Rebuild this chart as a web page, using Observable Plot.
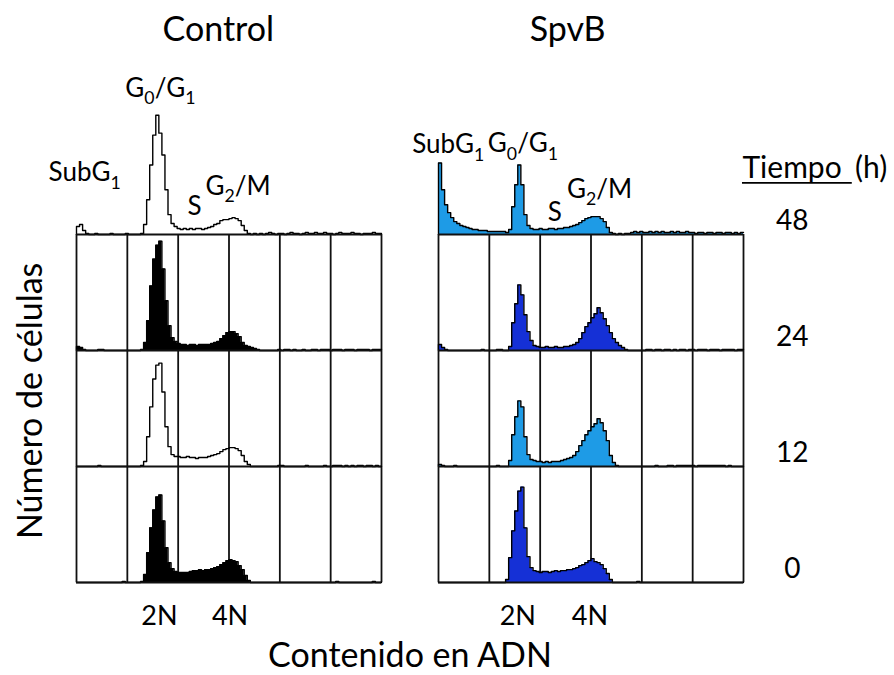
<!DOCTYPE html>
<html><head><meta charset="utf-8">
<script src="https://cdn.jsdelivr.net/npm/d3@7"></script>
<script src="https://cdn.jsdelivr.net/npm/@observablehq/plot@0.6"></script>
<style>body{margin:0;background:#fff}#chart svg{display:block}</style>
</head><body><div id="chart"></div>
<script>
// ---- data ----
const panels = ["Control", "SpvB"];
const times = [48, 24, 12, 0];
const gridTimes = [24, 12, 0];
const gridColumns = [0, 1, 2, 3, 4, 5, 6];
const binWidth = 0.06; // columns per channel bin
const ploidyLabels = ["2N", "4N"];

const control48 = [8,10,4,1,0,0,1,0,0,0, 0,1,0,0,0,0,1,0,0,0, 0,1,10,35,70,100,120,102,80,45, 20,11,8,6,5,6,5,6,5,6,
  6,5,6,7,8,10,11,14,15,15, 16,17,16,14,9,4,1,0,1,0, 1,0,1,2,1,0,1,1,0,1, 2,1,1,0,1,2,1,1,2,1, 1,2,1,1,0,1,2,1,1,1, 2,1,1,0,1,1,1,2,1,1];
const control24 = [4,3,1,0,0,0,0,1,1,0, 0,0,0,0,0,0,0,0,0,0, 0,1,8,30,65,92,106,110,82,50, 25,13,9,7,6,6,5,6,6,5,
  6,6,6,6,7,8,9,12,15,18, 19,19,17,14,8,5,4,3,2,1, 0,0,0,0,0,0,1,0,1,1, 0,1,0,0,1,0,0,1,1,0, 1,1,1,0,1,1,1,0,1,1, 1,0,1,1,1,1,0,1,1,1];
const control12 = [0,0,0,0,0,0,0,1,0,0, 0,0,0,0,0,0,0,0,0,0, 0,1,5,30,60,88,102,104,75,40, 20,12,10,10,9,9,10,9,9,8,
  9,9,9,10,11,12,13,15,17,18, 19,19,18,16,11,5,2,0,0,0, 0,0,0,0,0,0,1,1,0,0, 0,0,0,0,0,1,0,0,0,0, 0,1,0,0,1,1,1,0,1,0, 1,0,1,1,0,1,1,0,1,0];
const control0 = [0,0,0,0,0,0,0,0,0,0, 0,0,0,0,0,1,0,0,0,0, 0,1,8,30,55,73,86,88,62,35, 20,14,11,10,10,10,10,11,12,12,
  13,12,13,13,14,15,16,18,20,22, 23,22,21,17,13,7,2,0,0,0, 0,0,0,0,0,0,0,0,0,0, 0,0,0,0,0,0,0,0,0,0, 0,0,0,0,0,1,0,0,0,0, 0,0,0,0,0,0,0,1,0,0];
const spvb48 = [72,45,30,22,17,13,11,9,8,7, 6,5,5,4,4,4,3,3,3,3, 3,3,2,5,28,50,70,50,20,9, 6,5,5,6,5,5,6,6,5,6,
  6,7,7,8,9,10,12,14,16,17, 18,18,18,16,13,7,2,1,0,1, 0,1,1,2,3,2,3,2,2,3, 2,3,2,3,2,2,3,2,3,2, 2,3,2,2,1,2,2,1,2,2, 1,2,2,1,2,2,1,2,1,2];
const spvb24 = [6,3,1,0,0,0,0,0,0,0, 0,0,0,0,1,0,0,0,0,1, 1,0,0,4,28,47,66,56,36,19, 10,5,4,3,3,4,3,3,4,3,
  3,4,4,5,6,8,12,18,24,28, 33,37,43,38,32,25,18,12,8,5, 3,1,0,0,0,0,0,0,1,1, 0,1,1,0,1,1,0,1,0,1, 1,0,1,1,0,1,1,1,0,1, 1,1,0,1,1,1,1,0,1,1];
const spvb12 = [2,1,0,0,0,1,0,0,0,0, 0,0,0,0,0,0,0,0,0,1, 0,0,0,6,32,50,66,60,30,12, 7,6,5,5,4,5,4,5,5,5,
  6,7,8,9,11,15,21,26,32,36, 40,43,48,44,36,26,11,4,1,0, 0,0,0,0,0,0,0,0,0,0, 0,1,0,0,0,1,1,0,1,1, 1,1,1,1,0,1,1,1,1,1, 1,1,1,1,0,1,0,0,0,0];
const spvb0 = [0,0,0,0,0,0,0,0,0,0, 0,0,0,0,0,0,0,0,0,0, 0,0,3,25,52,72,92,96,55,26, 15,12,11,10,11,11,10,11,12,11,
  12,12,13,13,14,15,17,18,20,22, 24,21,20,18,14,9,3,0,0,0, 0,0,0,0,0,1,0,0,0,0, 0,0,0,0,0,0,0,0,0,0, 0,0,0,0,0,0,0,0,0,0, 0,0,0,0,0,0,0,0,0,0];

// ---- styles ----
const LIGHT = "#1e9be6", DARK = "#1530d6";
const fills = {Control: {48: "none", 24: "#000", 12: "none", 0: "#000"},
               SpvB: {48: LIGHT, 24: DARK, 12: LIGHT, 0: DARK}};
const series = {Control: {48: control48, 24: control24, 12: control12, 0: control0},
                SpvB: {48: spvb48, 24: spvb24, 12: spvb12, 0: spvb0}};

const hist = [];
for (const p of panels) for (const t of times) {
  const v = series[p][t], key = p + t, color = fills[p][t];
  hist.push({panel: p, time: t, key, color, x: 0, count: 0});
  v.forEach((c, i) => hist.push({panel: p, time: t, key, color, x: i * binWidth, count: c}));
  hist.push({panel: p, time: t, key, color, x: v.length * binWidth, count: v[v.length - 1]});
}
const grid = [];
for (const p of panels) for (const t of gridTimes) for (const c of gridColumns) grid.push({panel: p, time: t, col: c});

const FONT = "Lato";
const T = (s, panel, time, x, y, o = {}) => Plot.text([s], {fx: () => panel, fy: () => time, x, y, text: d => d,
  fontSize: 26, fill: "#000", lineAnchor: "middle", ...o});

const chart = Plot.plot({
  width: 894, height: 675,
  marginLeft: 76, marginRight: 150, marginTop: 116, marginBottom: 92,
  style: {fontFamily: FONT, background: "#fff", overflow: "visible"},
  x: {domain: [0, 6], axis: null},
  y: {domain: [0, 116.75], axis: null},
  fx: {domain: panels, paddingInner: 0.157, paddingOuter: 0, axis: null},
  fy: {domain: times, padding: 0, axis: null},
  color: {type: "identity"},
  marks: [
    Plot.ruleX(grid, {fx: "panel", fy: "time", x: "col", stroke: "#111", strokeWidth: 1.8}),
    Plot.areaY(hist.filter(d => d.color !== "none"), {fx: "panel", fy: "time", x: "x", y: "count", z: "key", fill: "color", curve: "step-after"}),
    Plot.lineY(hist, {fx: "panel", fy: "time", x: "x", y: "count", z: "key", stroke: "#000", strokeWidth: 1.4, curve: "step-after"}),
    Plot.ruleY([0], {stroke: "#111", strokeWidth: 2}),
    // titles
    T("Control", "Control", 48, 2.79, 206, {fontSize: 34}),
    T("SpvB", "SpvB", 48, 2.54, 206, {fontSize: 34}),
    // phase labels
    T("G_0/G_1", "Control", 48, 1.65, 147, {fontSize: 26}),
    T("SubG_1", "Control", 48, 0.16, 62, {fontSize: 26}),
    T("S", "Control", 48, 2.32, 28, {fontSize: 26}),
    T("G_2/M", "Control", 48, 3.18, 48, {fontSize: 26}),
    T("SubG_1", "SpvB", 48, 0.19, 90, {fontSize: 26}),
    T("G_0/G_1", "SpvB", 48, 1.66, 91, {fontSize: 26}),
    T("S", "SpvB", 48, 2.29, 22, {fontSize: 26}),
    T("G_2/M", "SpvB", 48, 3.17, 45, {fontSize: 26}),
    // time header
    T("Tiempo", "SpvB", 48, 5.98, 67, {fontSize: 30, textAnchor: "start"}),
    T("(h)", "SpvB", 48, 8.83, 67, {fontSize: 30, textAnchor: "end"}),
    Plot.ruleY([52], {fx: () => "SpvB", fy: () => 48, x1: 5.98, x2: 8.14, stroke: "#000", strokeWidth: 1.6}),
    // row labels
    Plot.text(times, {fx: () => "SpvB", fy: d => d, x: 6.96, y: 14, text: d => String(d), fontSize: 28, lineAnchor: "middle"}),
    // ploidy labels
    Plot.text(ploidyLabels, {fx: () => "Control", fy: () => 0, x: (d, i) => [1.63, 3.02][i], y: -34, text: d => d, fontSize: 27, lineAnchor: "middle"}),
    Plot.text(ploidyLabels, {fx: () => "SpvB", fy: () => 0, x: (d, i) => [1.56, 2.98][i], y: -34, text: d => d, fontSize: 27, lineAnchor: "middle"}),
    // axis titles
    T("Contenido en ADN", "Control", 0, 6.56, -74, {fontSize: 34}),
    T("Número de células", "Control", 12, -0.9, 66, {fontSize: 34, rotate: -90})
  ]
});
document.getElementById("chart").appendChild(chart);

// subscripts: "_d" -> lowered small digit
const NS = "http://www.w3.org/2000/svg";
chart.querySelectorAll("text").forEach(t => {
  const s = t.textContent;
  if (!s.includes("_")) return;
  const fs = parseFloat(getComputedStyle(t).fontSize) || 26;
  const parts = s.split(/(_\d)/).filter(Boolean);
  t.textContent = "";
  let low = false;
  for (const p of parts) {
    const ts = document.createElementNS(NS, "tspan");
    if (p.startsWith("_")) {
      ts.textContent = p.slice(1);
      ts.setAttribute("font-size", (fs * 0.68).toFixed(1));
      if (!low) ts.setAttribute("dy", (fs * 0.28).toFixed(1));
      low = true;
    } else {
      ts.textContent = p;
      if (low) ts.setAttribute("dy", (-fs * 0.28).toFixed(1));
      low = false;
    }
    t.appendChild(ts);
  }
});
</script></body></html>
